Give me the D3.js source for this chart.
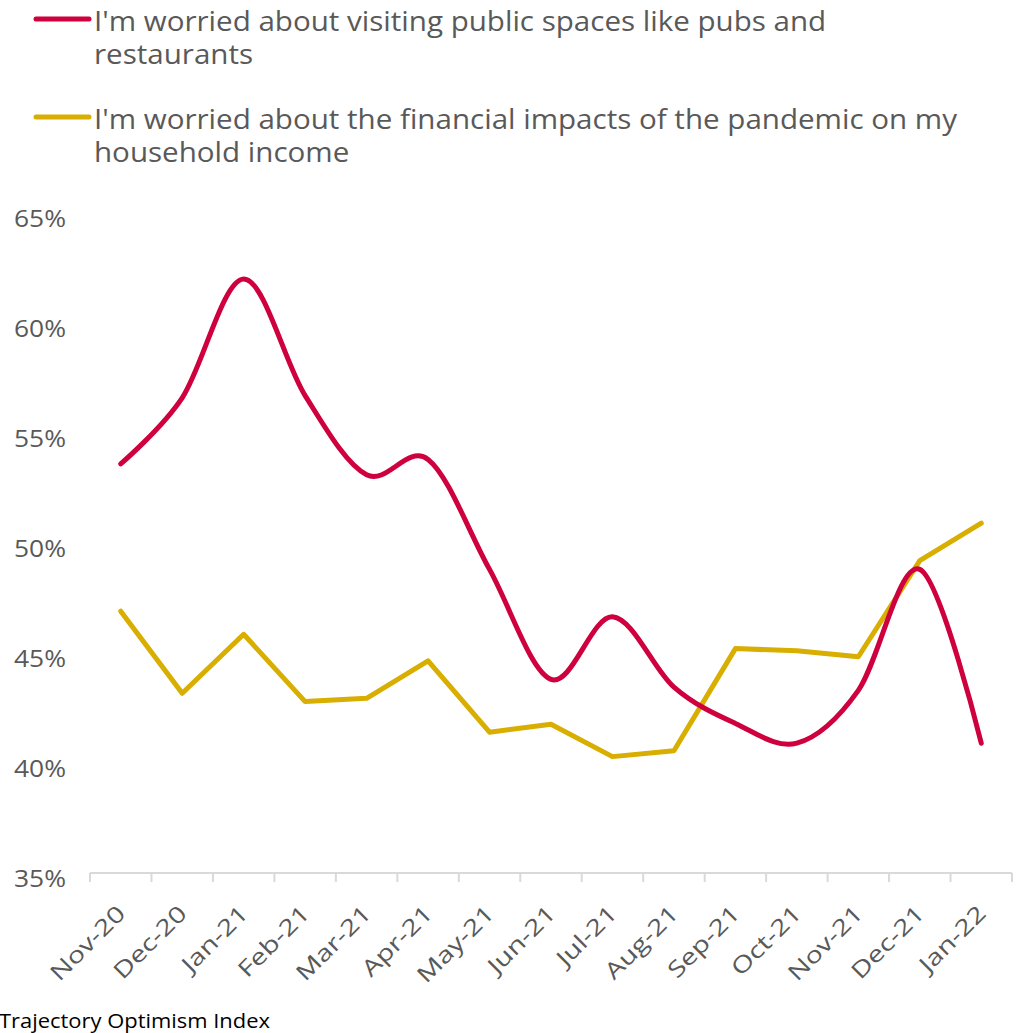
<!DOCTYPE html>
<html>
<head>
<meta charset="utf-8">
<script src="https://cdn.jsdelivr.net/npm/d3@7"></script>
<style>
  html, body { margin: 0; padding: 0; background: #ffffff; }
  svg { display: block; }
  text { font-family: "Open Sans", "DejaVu Sans", sans-serif; }
</style>
</head>
<body>
<div id="chart"></div>
<script>
// Monthly survey shares (%)
const months = ["Nov-20", "Dec-20", "Jan-21", "Feb-21", "Mar-21", "Apr-21", "May-21", "Jun-21",
                "Jul-21", "Aug-21", "Sep-21", "Oct-21", "Nov-21", "Dec-21", "Jan-22"];
const publicSpaces = [53.6, 56.6, 62.0, 56.7, 53.1, 53.8, 48.8, 43.8, 46.65, 43.45, 41.8, 40.9, 43.3, 48.8, 40.9];
const householdIncome = [46.9, 43.17, 45.85, 42.79, 42.94, 44.64, 41.4, 41.76, 40.29, 40.56, 45.2, 45.1, 44.83, 49.2, 50.9];
const seriesNames = [
  ["I'm worried about visiting public spaces like pubs and", "restaurants"],
  ["I'm worried about the financial impacts of the pandemic on my", "household income"]
];
const seriesColors = ["#CE003D", "#D8AE00"];
const yTicks = [35, 40, 45, 50, 55, 60, 65];
const sourceNote = "Trajectory Optimism Index";

const W = 1019, H = 1033;
const svg = d3.select("#chart").append("svg").attr("width", W).attr("height", H);

const x = d3.scaleBand().domain(months).range([90, 1012]);
const y = d3.scaleLinear().domain([35, 65]).range([873, 213]);
const cx = m => x(m) + x.bandwidth() / 2;

// widen glyphs horizontally (a broad geometric face) so the reference node spans `target` px
function widen(sel, size, refNode, target) {
  sel.style("font-size", size + "px");
  const k = target / refNode.getComputedTextLength();
  sel.each(function () {
    d3.select(this).attr("textLength", this.getComputedTextLength() * k)
      .attr("lengthAdjust", "spacingAndGlyphs");
  });
}

// legend
const legend = svg.append("g");
const legendRows = [{ y: 19, color: seriesColors[0], lines: seriesNames[0] },
                    { y: 117, color: seriesColors[1], lines: seriesNames[1] }];
legendRows.forEach(r => {
  legend.append("line").attr("x1", 36).attr("x2", 89).attr("y1", r.y).attr("y2", r.y)
    .attr("stroke", r.color).attr("stroke-width", 5).attr("stroke-linecap", "round");
});
const legendText = legend.selectAll("text.leg")
  .data(legendRows.flatMap(r => r.lines.map((t, i) => ({ t, y: r.y + 12 + i * 33 }))))
  .join("text").attr("class", "leg")
  .attr("x", 94).attr("y", d => d.y).attr("fill", "#595959").text(d => d.t);
widen(legendText, 27, legendText.filter(d => d.t === seriesNames[1][0]).node(), 863);

// y tick labels
const yLab = svg.append("g").selectAll("text").data(yTicks).join("text")
  .attr("x", 66).attr("y", d => y(d) + 14).attr("text-anchor", "end")
  .attr("fill", "#595959").text(d => d + "%");
widen(yLab, 24.5, yLab.node(), 52);

// x axis
const xAxis = d3.axisBottom(x).tickSize(0).tickFormat("");
const ax = svg.append("g").attr("transform", "translate(0,873)").call(xAxis);
ax.select(".domain").attr("stroke", "#D9D9D9").attr("stroke-width", 2).attr("d", "M90,0H1012");
const bounds = months.map(m => x(m)).concat([x(months[months.length - 1]) + x.bandwidth()]);
svg.append("g").selectAll("line").data(bounds).join("line")
  .attr("x1", d => d).attr("x2", d => d).attr("y1", 873).attr("y2", 882)
  .attr("stroke", "#D9D9D9").attr("stroke-width", 2);

const xLab = svg.append("g").selectAll("text").data(months).join("text")
  .attr("transform", d => `translate(${cx(d) + 6},${915}) rotate(-45)`)
  .attr("text-anchor", "end").attr("fill", "#595959").text(d => d);
widen(xLab, 22.5, xLab.node(), 95);

// series lines
const smooth = d3.line().x((d, i) => cx(months[i])).y(d => y(d)).curve(d3.curveCardinal.tension(0));
const straight = d3.line().x((d, i) => cx(months[i])).y(d => y(d));

svg.append("path").datum(householdIncome).attr("d", straight)
  .attr("fill", "none").attr("stroke", seriesColors[1]).attr("stroke-width", 5)
  .attr("stroke-linecap", "round").attr("stroke-linejoin", "round");
svg.append("path").datum(publicSpaces).attr("d", smooth)
  .attr("fill", "none").attr("stroke", seriesColors[0]).attr("stroke-width", 5)
  .attr("stroke-linecap", "round").attr("stroke-linejoin", "round");

// source note
const src = svg.append("text").attr("x", -1).attr("y", 1028).attr("fill", "#000000").text(sourceNote);
widen(src, 20, src.node(), 271);
</script>
</body>
</html>
